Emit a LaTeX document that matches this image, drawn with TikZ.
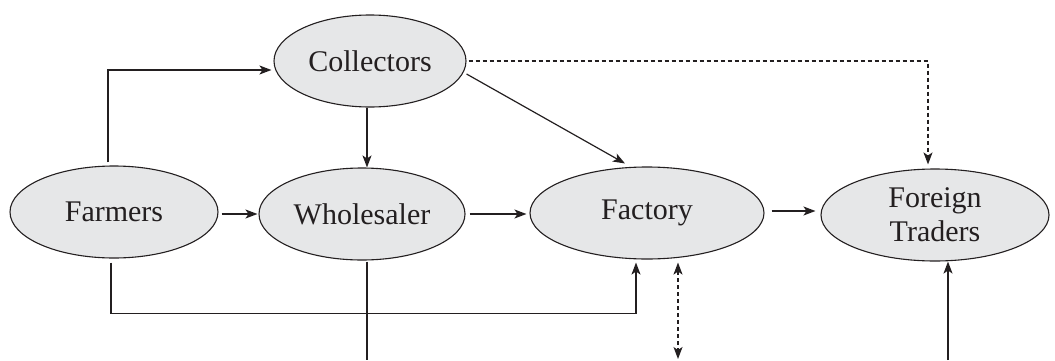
\documentclass[tikz,border=0pt]{standalone}
\usepackage{fontspec}
\setmainfont{Liberation Serif}
\usetikzlibrary{shapes.geometric,arrows.meta}
\definecolor{ink}{HTML}{231F20}
\definecolor{bubble}{HTML}{E6E7E8}
\tikzset{
  tip/.tip={Stealth[length=12pt,width=9pt,inset=3pt]},
  actor/.style={ellipse,draw=ink,fill=bubble,line width=1.1pt,inner sep=0pt,
    minimum height=92pt,text=ink,align=center,
    font=\fontsize{30}{36}\selectfont},
  flow/.style={draw=ink,line width=1.2pt,-tip},
  link/.style={draw=ink,line width=1.2pt},
  maybe/.style={draw=ink,line width=1.2pt,dash pattern=on 4pt off 3pt,-tip},
  both/.style={draw=ink,line width=1.2pt,dash pattern=on 4pt off 3pt,tip-tip}
}
\begin{document}
\begin{tikzpicture}[x=1pt,y=1pt]
\useasboundingbox (0,0) rectangle (1055,360);
\node[actor,minimum width=208pt] (farm) at (114,148) {Farmers};
\node[actor,minimum width=206pt] (whole) at (362,146) {Wholesaler};
\node[actor,minimum width=192pt] (coll) at (370,299) {Collectors};
\node[actor,minimum width=234pt] (fact) at (647,147) {Factory};
\node[actor,minimum width=228pt] (foreign) at (935,145) {Foreign\\[-2pt]Traders};
\coordinate (wb) at (367,0);
\coordinate (fb) at (678,1);
\coordinate (tb) at (948,0);
% farmers -> collectors
\draw[flow] ([xshift=-6pt,yshift=3pt]farm.north) |- ([xshift=-2pt,yshift=-9pt]coll.west);
% collectors -> wholesaler
\draw[flow] ([xshift=-3pt]coll.south) -- ([xshift=5pt]whole.north);
% collectors -> factory
\draw[flow] ([yshift=-13pt]coll.east) -- ([xshift=-22pt,yshift=3pt]fact.north);
% collectors -> foreign (dashed)
\draw[maybe] ([xshift=2pt]coll.east) -| ([xshift=-7pt,yshift=4pt]foreign.north);
% farmers -> wholesaler
\draw[flow] ([xshift=3pt]whole.west -| farm.east) -- ([xshift=-1pt]whole.west);
% wholesaler -> factory
\draw[flow] ([xshift=4pt]whole.east) -- ([xshift=-3pt]whole.east -| fact.west);
% factory -> foreign
\draw[flow] ([xshift=7pt,yshift=2pt]fact.east) -- ([xshift=-5pt,yshift=2pt]fact.east -| foreign.west);
% farmers -> factory (bottom route)
\draw[flow] ([xshift=-3pt,yshift=-4pt]farm.south) -- ++(0,-51) -| ([xshift=-11pt,yshift=-3pt]fact.south);
% wholesaler down
\draw[link] ([xshift=5pt,yshift=-1pt]whole.south) -- (wb);
% factory two-way dashed
\draw[both] ([xshift=31pt,yshift=-3pt]fact.south) -- (fb);
% up into foreign traders
\draw[flow] (tb) -- ([xshift=13pt]foreign.south);
\end{tikzpicture}
\end{document}
